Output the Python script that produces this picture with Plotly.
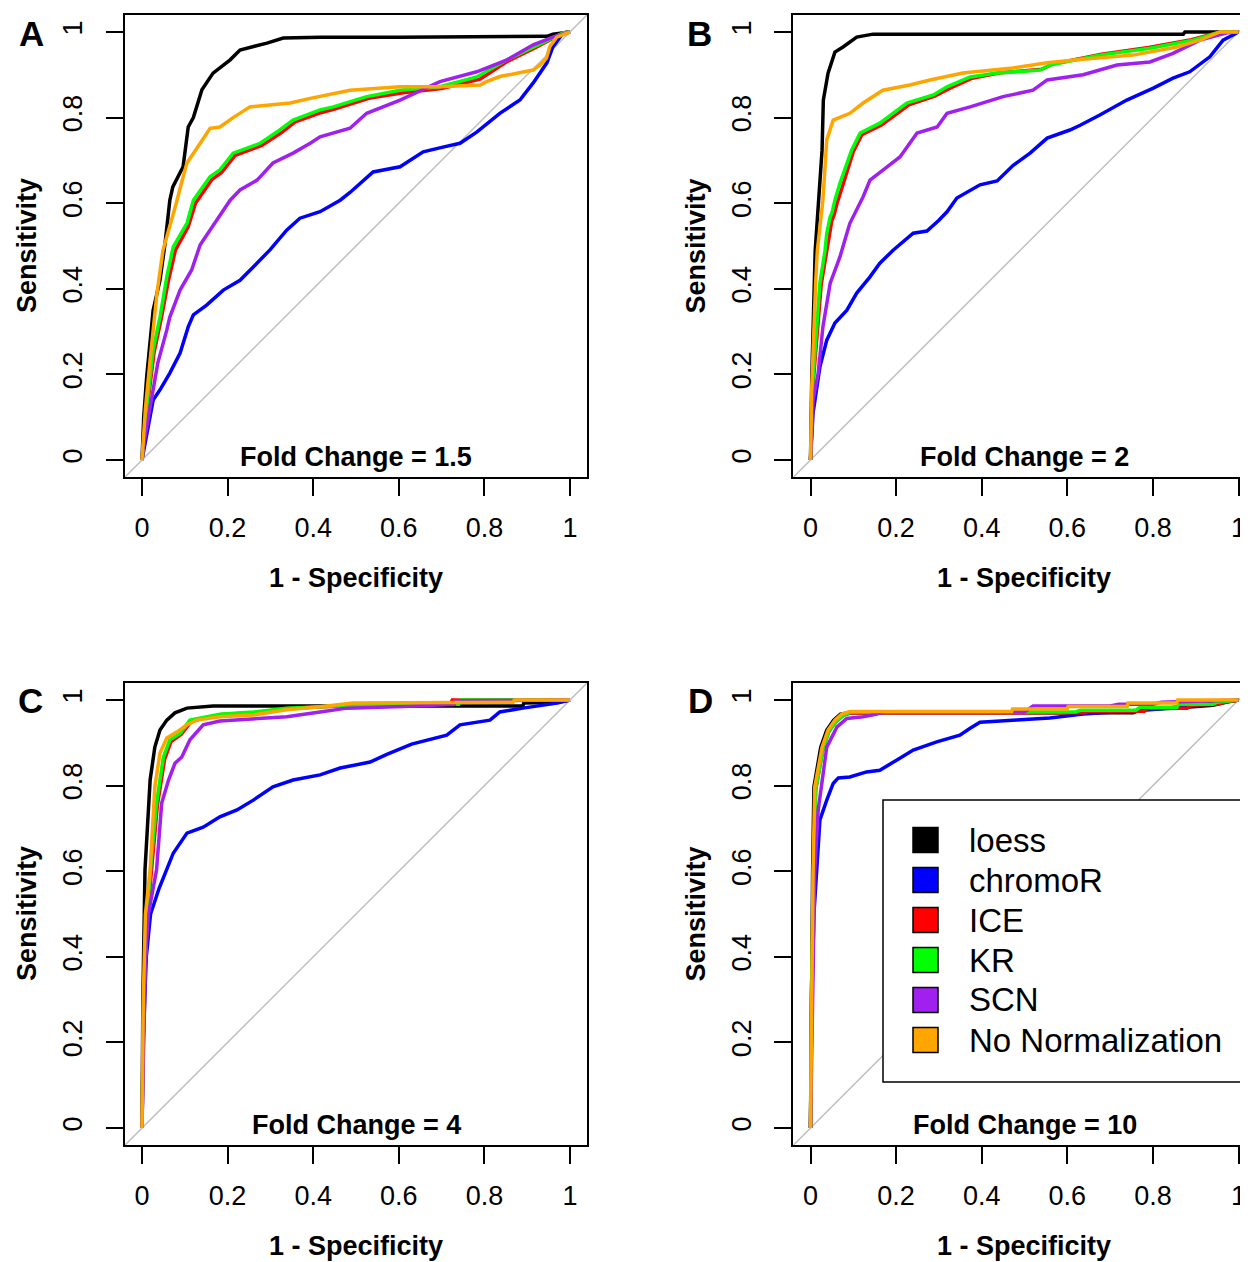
import plotly.graph_objects as go

PAGE_W, PAGE_H = 1248, 1262
OFF = 8                         # default body margin of the html page
W, H = PAGE_W - OFF, PAGE_H - OFF
SERIES = ["loess", "chromoR", "ICE", "KR", "SCN", "No Normalization"]
COLORS = ["#000000", "#0000FF", "#FF0000", "#00FF00", "#A020F0", "#FFA500"]
TICK_VALS = [0, 0.2, 0.4, 0.6, 0.8, 1]
TICK_TEXT = ["0", "0.2", "0.4", "0.6", "0.8", "1"]
PANEL_LABELS = ["A", "B", "C", "D"]
FOLD_CHANGES = ["1.5", "2", "4", "10"]

# ---------------- Panel A (fold change 1.5) ----------------
A_LOESS_FPR = [0, 0.004, 0.011, 0.026, 0.042, 0.054, 0.065, 0.072, 0.096, 0.108, 0.12, 0.14, 0.166, 0.206, 0.229, 0.292, 0.33, 0.416, 0.6, 0.8, 0.946, 0.96, 1.0]
A_LOESS_TPR = [0, 0.1, 0.195, 0.35, 0.42, 0.507, 0.607, 0.638, 0.685, 0.778, 0.80, 0.865, 0.904, 0.935, 0.958, 0.974, 0.986, 0.988, 0.988, 0.988, 0.99, 0.995, 1.0]
A_CHROMOR_FPR = [0, 0.011, 0.026, 0.042, 0.065, 0.089, 0.108, 0.12, 0.151, 0.19, 0.229, 0.26, 0.299, 0.338, 0.369, 0.416, 0.463, 0.486, 0.54, 0.603, 0.657, 0.703, 0.743, 0.782, 0.836, 0.883, 0.914, 0.946, 0.96, 0.984, 1.0]
A_CHROMOR_TPR = [0, 0.063, 0.14, 0.164, 0.203, 0.25, 0.311, 0.339, 0.362, 0.397, 0.42, 0.451, 0.491, 0.537, 0.565, 0.58, 0.607, 0.625, 0.673, 0.685, 0.72, 0.731, 0.74, 0.766, 0.81, 0.841, 0.881, 0.928, 0.965, 0.998, 1.0]
A_ICE_FPR = [0, 0.012, 0.028, 0.045, 0.062, 0.078, 0.108, 0.125, 0.163, 0.186, 0.218, 0.28, 0.326, 0.358, 0.42, 0.45, 0.53, 0.61, 0.70, 0.79, 0.855, 0.918, 0.984, 1.0]
A_ICE_TPR = [0, 0.12, 0.25, 0.33, 0.42, 0.49, 0.545, 0.6, 0.655, 0.672, 0.712, 0.735, 0.765, 0.79, 0.812, 0.82, 0.845, 0.858, 0.868, 0.89, 0.932, 0.963, 0.998, 1.0]
A_KR_FPR = [0, 0.011, 0.026, 0.042, 0.058, 0.073, 0.105, 0.12, 0.159, 0.182, 0.213, 0.276, 0.322, 0.353, 0.416, 0.447, 0.525, 0.603, 0.696, 0.782, 0.853, 0.914, 0.984, 1.0]
A_KR_TPR = [0, 0.124, 0.257, 0.334, 0.428, 0.498, 0.553, 0.607, 0.662, 0.678, 0.717, 0.74, 0.771, 0.794, 0.818, 0.825, 0.849, 0.864, 0.872, 0.895, 0.935, 0.965, 0.998, 1.0]
A_SCN_FPR = [0, 0.003, 0.019, 0.037, 0.058, 0.065, 0.089, 0.116, 0.136, 0.175, 0.206, 0.229, 0.269, 0.306, 0.353, 0.393, 0.416, 0.486, 0.525, 0.603, 0.696, 0.782, 0.853, 0.914, 0.96, 1.0]
A_SCN_TPR = [0, 0.03, 0.124, 0.227, 0.304, 0.334, 0.397, 0.444, 0.503, 0.561, 0.607, 0.631, 0.654, 0.694, 0.717, 0.74, 0.755, 0.775, 0.81, 0.841, 0.884, 0.907, 0.935, 0.97, 0.988, 1.0]
A_NONORM_FPR = [0, 0.008, 0.019, 0.035, 0.049, 0.058, 0.08, 0.093, 0.105, 0.136, 0.159, 0.182, 0.213, 0.252, 0.292, 0.346, 0.393, 0.486, 0.603, 0.696, 0.79, 0.805, 0.836, 0.875, 0.914, 0.93, 0.945, 0.953, 0.969, 1.0]
A_NONORM_TPR = [0, 0.12, 0.234, 0.39, 0.49, 0.52, 0.6, 0.65, 0.694, 0.74, 0.775, 0.778, 0.80, 0.825, 0.829, 0.834, 0.845, 0.864, 0.872, 0.872, 0.876, 0.884, 0.896, 0.903, 0.911, 0.923, 0.939, 0.966, 0.988, 1.0]

# ---------------- Panel B (fold change 2) ----------------
B_LOESS_FPR = [0, 0.003, 0.011, 0.018, 0.027, 0.03, 0.041, 0.057, 0.076, 0.108, 0.146, 0.5, 0.871, 0.875, 1.0]
B_LOESS_TPR = [0, 0.194, 0.49, 0.607, 0.724, 0.841, 0.904, 0.953, 0.965, 0.988, 0.995, 0.995, 0.995, 1.0, 1.0]
B_CHROMOR_FPR = [0, 0.003, 0.006, 0.022, 0.038, 0.057, 0.085, 0.108, 0.139, 0.162, 0.193, 0.24, 0.272, 0.30, 0.319, 0.342, 0.396, 0.436, 0.473, 0.513, 0.553, 0.606, 0.63, 0.676, 0.739, 0.801, 0.847, 0.886, 0.933, 0.964, 0.996, 1.0]
B_CHROMOR_TPR = [0, 0.06, 0.11, 0.218, 0.28, 0.32, 0.35, 0.39, 0.428, 0.46, 0.49, 0.53, 0.535, 0.56, 0.58, 0.612, 0.643, 0.652, 0.688, 0.717, 0.752, 0.771, 0.782, 0.806, 0.841, 0.869, 0.892, 0.907, 0.942, 0.981, 1.0, 1.0]
B_ICE_FPR = [0, 0.007, 0.025, 0.038, 0.043, 0.05, 0.055, 0.062, 0.075, 0.10, 0.12, 0.166, 0.23, 0.29, 0.325, 0.378, 0.44, 0.54, 0.565, 0.68, 0.79, 0.89, 0.957, 1.0]
B_ICE_TPR = [0, 0.19, 0.41, 0.485, 0.525, 0.56, 0.572, 0.60, 0.64, 0.72, 0.76, 0.783, 0.83, 0.85, 0.868, 0.892, 0.904, 0.913, 0.925, 0.948, 0.964, 0.982, 1.0, 1.0]
B_KR_FPR = [0, 0.006, 0.022, 0.034, 0.038, 0.046, 0.05, 0.057, 0.069, 0.096, 0.116, 0.162, 0.225, 0.287, 0.319, 0.373, 0.436, 0.536, 0.56, 0.676, 0.793, 0.894, 0.957, 1.0]
B_KR_TPR = [0, 0.194, 0.413, 0.49, 0.53, 0.568, 0.577, 0.607, 0.647, 0.724, 0.764, 0.787, 0.834, 0.853, 0.872, 0.895, 0.904, 0.911, 0.923, 0.946, 0.962, 0.981, 1.0, 1.0]
B_SCN_FPR = [0, 0.006, 0.018, 0.029, 0.046, 0.069, 0.085, 0.092, 0.123, 0.139, 0.179, 0.209, 0.249, 0.296, 0.319, 0.373, 0.45, 0.52, 0.553, 0.637, 0.716, 0.793, 0.847, 0.91, 0.973, 1.0]
B_SCN_TPR = [0, 0.14, 0.203, 0.311, 0.413, 0.475, 0.53, 0.553, 0.615, 0.654, 0.685, 0.708, 0.764, 0.778, 0.81, 0.825, 0.849, 0.864, 0.888, 0.90, 0.923, 0.93, 0.95, 0.981, 0.998, 1.0]
B_NONORM_FPR = [0, 0.003, 0.012, 0.016, 0.029, 0.038, 0.053, 0.092, 0.123, 0.169, 0.232, 0.279, 0.356, 0.473, 0.553, 0.63, 0.754, 0.856, 0.91, 0.957, 1.0]
B_NONORM_TPR = [0, 0.171, 0.413, 0.49, 0.607, 0.748, 0.794, 0.81, 0.834, 0.864, 0.876, 0.888, 0.904, 0.916, 0.928, 0.936, 0.946, 0.965, 0.981, 1.0, 1.0]

# ---------------- Panel C (fold change 4) ----------------
C_LOESS_FPR = [0, 0.002, 0.007, 0.019, 0.03, 0.042, 0.058, 0.077, 0.105, 0.166, 0.61, 0.89, 0.892, 0.97, 1.0]
C_LOESS_TPR = [0, 0.3, 0.603, 0.813, 0.89, 0.93, 0.953, 0.97, 0.981, 0.986, 0.986, 0.986, 0.993, 0.995, 1.0]
C_CHROMOR_FPR = [0, 0.003, 0.01, 0.02, 0.04, 0.058, 0.073, 0.105, 0.143, 0.182, 0.222, 0.26, 0.306, 0.353, 0.416, 0.463, 0.533, 0.572, 0.63, 0.712, 0.743, 0.813, 0.836, 0.89, 0.97, 1.0]
C_CHROMOR_TPR = [0, 0.2, 0.4, 0.5, 0.56, 0.603, 0.642, 0.689, 0.703, 0.727, 0.743, 0.766, 0.797, 0.813, 0.825, 0.841, 0.855, 0.873, 0.897, 0.918, 0.942, 0.953, 0.972, 0.981, 0.993, 1.0]
C_ICE_FPR = [0, 0.004, 0.013, 0.024, 0.036, 0.053, 0.068, 0.092, 0.115, 0.155, 0.186, 0.265, 0.34, 0.46, 0.60, 0.72, 0.725, 1.0]
C_ICE_TPR = [0, 0.3, 0.5, 0.63, 0.755, 0.862, 0.903, 0.92, 0.95, 0.96, 0.966, 0.971, 0.98, 0.986, 0.99, 0.99, 1.0, 1.0]
C_KR_FPR = [0, 0.004, 0.012, 0.022, 0.034, 0.05, 0.065, 0.089, 0.112, 0.151, 0.182, 0.26, 0.338, 0.455, 0.60, 0.74, 0.745, 1.0]
C_KR_TPR = [0, 0.3, 0.5, 0.633, 0.759, 0.867, 0.907, 0.922, 0.953, 0.961, 0.967, 0.972, 0.981, 0.986, 0.99, 0.99, 1.0, 1.0]
C_SCN_FPR = [0, 0.003, 0.008, 0.015, 0.034, 0.046, 0.062, 0.077, 0.093, 0.112, 0.143, 0.182, 0.26, 0.338, 0.416, 0.479, 0.61, 0.73, 0.731, 1.0]
C_SCN_TPR = [0, 0.2, 0.4, 0.5, 0.603, 0.759, 0.813, 0.852, 0.867, 0.907, 0.942, 0.951, 0.955, 0.961, 0.972, 0.981, 0.985, 0.99, 0.998, 1.0]
C_NONORM_FPR = [0, 0.003, 0.008, 0.019, 0.03, 0.042, 0.058, 0.081, 0.105, 0.128, 0.182, 0.26, 0.338, 0.416, 0.493, 0.867, 0.87, 1.0]
C_NONORM_TPR = [0, 0.3, 0.5, 0.603, 0.797, 0.876, 0.911, 0.925, 0.942, 0.953, 0.961, 0.965, 0.977, 0.984, 0.993, 0.995, 1.0, 1.0]

# ---------------- Panel D (fold change 10) ----------------
D_LOESS_FPR = [0, 0.002, 0.005, 0.008, 0.024, 0.038, 0.054, 0.07, 0.09, 0.754, 0.77, 0.847, 0.94, 0.973, 1.0]
D_LOESS_TPR = [0, 0.3, 0.603, 0.797, 0.89, 0.93, 0.953, 0.967, 0.97, 0.97, 0.977, 0.981, 0.988, 0.995, 1.0]
D_CHROMOR_FPR = [0, 0.003, 0.008, 0.015, 0.022, 0.038, 0.053, 0.065, 0.092, 0.131, 0.162, 0.202, 0.24, 0.295, 0.349, 0.373, 0.396, 0.482, 0.559, 0.637, 0.676, 0.80, 0.90, 1.0]
D_CHROMOR_TPR = [0, 0.3, 0.5, 0.603, 0.72, 0.766, 0.805, 0.818, 0.82, 0.832, 0.836, 0.86, 0.883, 0.902, 0.918, 0.934, 0.948, 0.953, 0.958, 0.967, 0.97, 0.978, 0.988, 1.0]
D_ICE_FPR = [0, 0.002, 0.007, 0.012, 0.029, 0.043, 0.06, 0.077, 0.095, 0.64, 0.65, 0.78, 0.79, 0.88, 0.89, 0.95, 0.97, 1.0]
D_ICE_TPR = [0, 0.3, 0.6, 0.79, 0.885, 0.927, 0.95, 0.964, 0.97, 0.97, 0.974, 0.974, 0.981, 0.981, 0.988, 0.99, 0.995, 1.0]
D_KR_FPR = [0, 0.002, 0.007, 0.012, 0.029, 0.043, 0.06, 0.077, 0.095, 0.62, 0.63, 0.76, 0.77, 0.856, 0.86, 0.94, 0.95, 1.0]
D_KR_TPR = [0, 0.3, 0.6, 0.79, 0.885, 0.927, 0.95, 0.964, 0.972, 0.972, 0.976, 0.976, 0.983, 0.983, 0.99, 0.99, 0.995, 1.0]
D_SCN_FPR = [0, 0.004, 0.01, 0.018, 0.038, 0.062, 0.085, 0.123, 0.155, 0.17, 0.50, 0.52, 0.70, 0.72, 0.80, 0.82, 1.0]
D_SCN_TPR = [0, 0.3, 0.6, 0.743, 0.89, 0.937, 0.957, 0.961, 0.967, 0.972, 0.972, 0.986, 0.986, 0.99, 0.99, 0.995, 1.0]
D_NONORM_FPR = [0, 0.002, 0.006, 0.01, 0.027, 0.041, 0.057, 0.073, 0.092, 0.47, 0.472, 0.60, 0.602, 0.74, 0.742, 0.856, 0.858, 1.0]
D_NONORM_TPR = [0, 0.3, 0.603, 0.797, 0.89, 0.93, 0.953, 0.967, 0.973, 0.973, 0.979, 0.979, 0.985, 0.985, 0.993, 0.993, 1.0, 1.0]

PANEL_DATA = [
    [(A_LOESS_FPR, A_LOESS_TPR), (A_CHROMOR_FPR, A_CHROMOR_TPR), (A_ICE_FPR, A_ICE_TPR),
     (A_KR_FPR, A_KR_TPR), (A_SCN_FPR, A_SCN_TPR), (A_NONORM_FPR, A_NONORM_TPR)],
    [(B_LOESS_FPR, B_LOESS_TPR), (B_CHROMOR_FPR, B_CHROMOR_TPR), (B_ICE_FPR, B_ICE_TPR),
     (B_KR_FPR, B_KR_TPR), (B_SCN_FPR, B_SCN_TPR), (B_NONORM_FPR, B_NONORM_TPR)],
    [(C_LOESS_FPR, C_LOESS_TPR), (C_CHROMOR_FPR, C_CHROMOR_TPR), (C_ICE_FPR, C_ICE_TPR),
     (C_KR_FPR, C_KR_TPR), (C_SCN_FPR, C_SCN_TPR), (C_NONORM_FPR, C_NONORM_TPR)],
    [(D_LOESS_FPR, D_LOESS_TPR), (D_CHROMOR_FPR, D_CHROMOR_TPR), (D_ICE_FPR, D_ICE_TPR),
     (D_KR_FPR, D_KR_TPR), (D_SCN_FPR, D_SCN_TPR), (D_NONORM_FPR, D_NONORM_TPR)],
]

FONT = "Arial, 'Liberation Sans', sans-serif"
S = 428.0                      # pixels per data unit
ORIGINS = [(142, 460), (810.5, 460), (142, 1128), (810.5, 1128)]   # page pixel of (0,0)
LETTER_POS = [(31, 33), (699, 33), (30, 700), (700, 700)]


def fx(px):
    return (px - OFF) / W


def fy(py):
    return 1 - (py - OFF) / H


fig = go.Figure()
layout = dict(width=W, height=H, margin=dict(l=0, r=0, t=0, b=0),
              paper_bgcolor="white", plot_bgcolor="white", showlegend=False,
              font=dict(family=FONT, color="black"))
annotations = []
shapes = []

for i in range(4):
    n = "" if i == 0 else str(i + 1)
    ox, oy = ORIGINS[i]
    left = ox - 0.04 * S
    right = min(ox + 1.04 * S, PAGE_W)
    top = oy - 1.04 * S
    bottom = oy + 0.04 * S
    xmax = (right - ox) / S
    clipped = right < ox + 1.04 * S - 0.5
    axis_common = dict(showgrid=False, zeroline=False, showline=True, linecolor="black",
                       linewidth=2, ticks="outside", ticklen=17, tickwidth=2, tickcolor="black",
                       tickvals=TICK_VALS, ticktext=TICK_TEXT,
                       tickfont=dict(family=FONT, size=27, color="black"))
    layout["xaxis" + n] = dict(axis_common, domain=[fx(left), min(fx(right), 1.0)],
                               range=[-0.04, xmax], mirror=True, anchor="y" + n,
                               ticklabelstandoff=8)
    layout["yaxis" + n] = dict(axis_common, domain=[fy(bottom), fy(top)], range=[-0.04, 1.04],
                               mirror=(not clipped), anchor="x" + n, tickangle=-90,
                               ticklabelstandoff=13)
    # diagonal reference line
    fig.add_trace(go.Scatter(x=[-0.04, 1.04], y=[-0.04, 1.04], mode="lines",
                             line=dict(color="#BEBEBE", width=1.5), hoverinfo="skip",
                             xaxis="x" + n, yaxis="y" + n))
    for k, (fpr, tpr) in enumerate(PANEL_DATA[i]):
        fig.add_trace(go.Scatter(x=fpr, y=tpr, mode="lines", name=SERIES[k],
                                 line=dict(color=COLORS[k], width=3.5),
                                 xaxis="x" + n, yaxis="y" + n))
    # fold change label
    annotations.append(dict(x=0.5, y=0.008, xref="x" + n, yref="y" + n, showarrow=False,
                            text="<b>Fold Change = " + FOLD_CHANGES[i] + "</b>",
                            font=dict(family=FONT, size=27, color="black"),
                            xanchor="center", yanchor="middle"))
    # axis titles
    annotations.append(dict(x=fx(ox - 115), y=fy(oy - 0.5 * S), xref="paper", yref="paper",
                            showarrow=False, text="<b>Sensitivity</b>", textangle=-90,
                            font=dict(family=FONT, size=27, color="black"),
                            xanchor="center", yanchor="middle"))
    annotations.append(dict(x=fx(ox + 0.5 * S), y=fy(oy + 118), xref="paper", yref="paper",
                            showarrow=False, text="<b>1 - Specificity</b>",
                            font=dict(family=FONT, size=27, color="black"),
                            xanchor="center", yanchor="middle"))
    lx, ly = LETTER_POS[i]
    annotations.append(dict(x=fx(lx), y=fy(ly), xref="paper", yref="paper", showarrow=False,
                            text="<b>" + PANEL_LABELS[i] + "</b>",
                            font=dict(family=FONT, size=35, color="black"),
                            xanchor="center", yanchor="middle"))

# legend (drawn in panel D)
LEG_BOX = (883, 800, 1241, 1082)
shapes.append(dict(type="rect", xref="paper", yref="paper", layer="above",
                   x0=fx(LEG_BOX[0]), x1=fx(LEG_BOX[2]), y0=fy(LEG_BOX[3]), y1=fy(LEG_BOX[1]),
                   fillcolor="white", line=dict(color="black", width=1.5)))
for k, name in enumerate(SERIES):
    cy = 840 + 40 * k
    shapes.append(dict(type="rect", xref="paper", yref="paper", layer="above",
                       x0=fx(913), x1=fx(938), y0=fy(cy + 12.5), y1=fy(cy - 12.5),
                       fillcolor=COLORS[k], line=dict(color="black", width=1.5)))
    annotations.append(dict(x=fx(967), y=fy(cy), xref="paper", yref="paper", showarrow=False,
                            text=name, font=dict(family=FONT, size=33, color="black"),
                            xanchor="left", yanchor="middle"))

layout["annotations"] = annotations
layout["shapes"] = shapes
fig.update_layout(**layout)
fig.write_html("out.html")
